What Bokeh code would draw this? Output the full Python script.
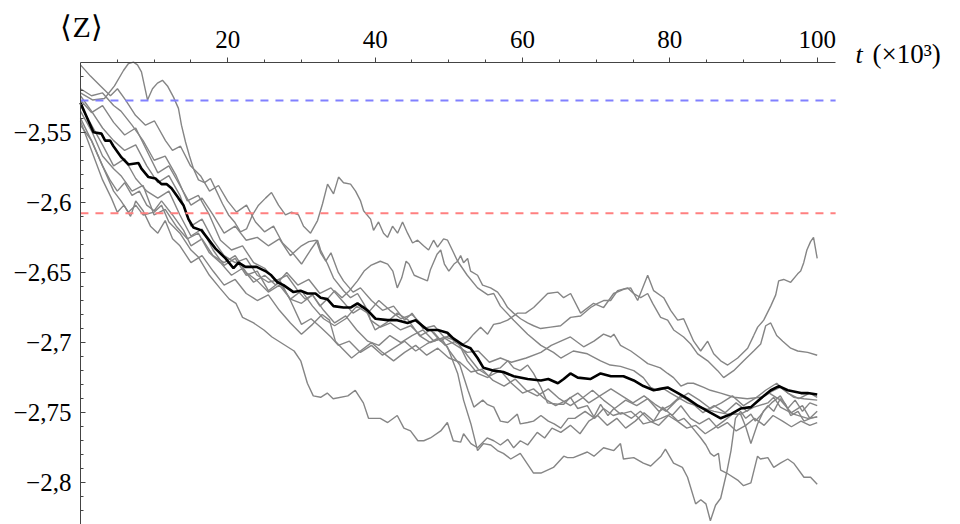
from bokeh.plotting import figure
from bokeh.models import Range1d, FixedTicker, CustomJSTickFormatter, Label, LinearAxis
from bokeh.embed import file_html
from bokeh.resources import INLINE

# ---- data: individual runs (t in units of 10^3, <Z>) ----
run_1 = [(0, -2.522), (1.63, -2.527), (3.26, -2.526), (4.62, -2.517), (5.84, -2.506), (6.52, -2.501), (7.2, -2.500), (7.74, -2.502), (8.28, -2.507), (9.1, -2.527), (9.78, -2.519), (10.45, -2.515), (11.13, -2.513), (11.81, -2.517), (12.63, -2.525), (13.3, -2.533), (13.71, -2.545), (14.26, -2.557), (14.8, -2.567), (15.34, -2.576), (16.02, -2.584), (16.84, -2.586), (17.65, -2.583), (18.47, -2.592), (19.28, -2.601), (20.1, -2.609), (20.91, -2.614), (21.72, -2.621), (22.54, -2.619), (23.35, -2.609), (24.17, -2.602), (25.12, -2.597), (25.93, -2.593), (26.88, -2.602), (27.83, -2.609), (28.65, -2.607), (29.6, -2.609), (30.28, -2.617), (31.23, -2.622), (32.18, -2.613), (32.86, -2.601), (33.54, -2.587), (34.35, -2.594), (35.03, -2.582), (35.71, -2.586), (36.66, -2.587), (37.34, -2.592), (38.02, -2.599), (38.43, -2.606), (39.38, -2.612), (39.78, -2.620), (40.46, -2.614), (41.14, -2.622), (41.68, -2.625), (42.36, -2.617), (43.04, -2.622), (43.72, -2.614), (44.4, -2.622), (45.08, -2.629), (45.76, -2.627), (46.57, -2.631), (47.25, -2.634), (47.93, -2.627), (48.47, -2.632), (49.29, -2.626), (49.83, -2.627), (50.65, -2.636), (51.19, -2.642), (51.6, -2.638), (52.0, -2.643), (52.55, -2.640), (52.95, -2.649), (53.9, -2.652), (54.58, -2.659), (55.67, -2.661), (56.62, -2.664), (57.3, -2.669), (57.98, -2.675), (58.79, -2.679), (59.74, -2.683), (60.69, -2.686), (61.51, -2.688), (62.46, -2.690), (63.82, -2.689), (65.17, -2.688), (66.53, -2.682), (67.89, -2.681), (69.25, -2.675), (70.2, -2.672), (71.01, -2.670), (71.96, -2.670), (72.91, -2.663), (74.27, -2.661), (75.08, -2.665), (76.04, -2.668), (76.99, -2.665), (77.67, -2.672), (78.75, -2.682), (79.7, -2.684), (80.52, -2.691), (81.87, -2.696), (82.82, -2.701), (83.77, -2.708), (85.13, -2.713), (86.49, -2.720), (87.3, -2.725), (88.66, -2.720), (90.02, -2.713), (91.38, -2.706), (92.33, -2.701), (93.01, -2.688), (93.69, -2.686), (94.5, -2.695), (95.32, -2.699), (96.4, -2.704), (97.35, -2.706), (98.71, -2.707), (100, -2.709)]

run_2 = [(0, -2.502), (1.36, -2.510), (2.72, -2.517), (4.07, -2.524), (5.02, -2.519), (6.11, -2.527), (7.47, -2.538), (8.83, -2.545), (10.05, -2.542), (11.54, -2.556), (12.49, -2.563), (13.58, -2.560), (14.94, -2.574), (16.29, -2.581), (17.52, -2.592), (18.74, -2.588), (19.96, -2.599), (21.18, -2.607), (22.54, -2.602), (23.76, -2.614), (24.98, -2.621), (26.21, -2.617), (27.43, -2.629), (28.78, -2.636), (30.01, -2.644), (31.23, -2.634), (32.18, -2.627), (32.59, -2.634), (33.54, -2.644), (34.35, -2.654), (35.71, -2.663), (36.66, -2.668), (37.61, -2.665), (38.43, -2.672), (38.97, -2.677), (39.38, -2.684), (40.73, -2.689), (42.09, -2.686), (43.45, -2.691), (44.81, -2.688), (46.16, -2.695), (47.52, -2.691), (48.88, -2.699), (49.97, -2.695), (50.92, -2.700), (51.73, -2.702), (52.55, -2.699), (53.36, -2.694), (54.31, -2.689), (55.26, -2.694), (56.08, -2.687), (57.03, -2.686), (57.98, -2.684), (59.33, -2.679), (60.42, -2.679), (61.51, -2.675), (62.46, -2.670), (63.41, -2.665), (64.77, -2.664), (65.58, -2.668), (66.53, -2.665), (67.89, -2.679), (69.65, -2.672), (71.01, -2.675), (72.37, -2.665), (73.73, -2.662), (74.68, -2.661), (75.63, -2.670), (76.99, -2.652), (77.8, -2.663), (79.16, -2.668), (80.11, -2.677), (81.06, -2.684), (81.87, -2.683), (83.23, -2.699), (84.18, -2.706), (85.13, -2.699), (85.95, -2.708), (86.9, -2.713), (87.85, -2.716), (89.21, -2.711), (90.56, -2.704), (91.38, -2.695), (91.92, -2.689), (92.74, -2.684), (93.69, -2.674), (94.37, -2.666), (94.77, -2.656), (95.45, -2.655), (96.4, -2.657), (97.35, -2.651), (97.76, -2.649), (98.17, -2.643), (98.6, -2.634), (99.1, -2.628), (99.5, -2.625), (100, -2.640)]

run_3 = [(0, -2.527), (1.5, -2.536), (3, -2.531), (4.5, -2.543), (6, -2.552), (7.5, -2.547), (9, -2.563), (10.5, -2.579), (12, -2.574), (13.5, -2.588), (15, -2.602), (16.5, -2.597), (18, -2.609), (19.5, -2.622), (21, -2.617), (22.5, -2.627), (24, -2.625), (25.5, -2.631), (27, -2.626), (28.5, -2.638), (30, -2.631), (31, -2.628), (32, -2.627), (32.6, -2.636), (33.3, -2.642), (34, -2.636), (35, -2.650), (35.7, -2.656), (37, -2.664), (38, -2.661), (39.5, -2.670), (41, -2.677), (42.5, -2.674), (44, -2.684), (45, -2.679), (46.5, -2.690), (48, -2.688), (49.5, -2.697), (51, -2.702), (52.5, -2.707), (54, -2.706), (55.5, -2.714), (57, -2.711), (58.5, -2.714), (60.5, -2.711), (62.5, -2.707), (63.9, -2.702), (65.2, -2.699), (66.5, -2.696), (68.3, -2.703), (69.7, -2.699), (71.0, -2.694), (72.0, -2.696), (72.4, -2.694), (73.3, -2.702), (74.7, -2.706), (76.0, -2.711), (77.0, -2.715), (78.7, -2.718), (79.7, -2.722), (80.5, -2.725), (81.5, -2.731), (82.4, -2.729), (83.2, -2.729), (84.6, -2.732), (85.5, -2.734), (86.9, -2.736), (88.7, -2.739), (90.5, -2.740), (92.3, -2.739), (94.1, -2.734), (95.0, -2.732), (96.8, -2.739), (98.2, -2.740), (100, -2.741)]

run_4 = [(0, -2.531), (1.5, -2.545), (3, -2.559), (4.5, -2.574), (6, -2.569), (7.5, -2.583), (9, -2.592), (10.5, -2.597), (12, -2.592), (13.5, -2.609), (15, -2.624), (16.5, -2.619), (18, -2.634), (19.5, -2.645), (21, -2.640), (22.5, -2.652), (24, -2.649), (25.5, -2.663), (27, -2.657), (28.5, -2.669), (30, -2.672), (31.5, -2.666), (33, -2.677), (34.5, -2.686), (36, -2.681), (37.5, -2.691), (39, -2.699), (40.5, -2.702), (42, -2.695), (43.5, -2.700), (45, -2.695), (46.5, -2.691), (48, -2.699), (49.5, -2.696), (51.2, -2.699), (52.5, -2.713), (53.9, -2.722), (55.3, -2.725), (56.1, -2.719), (57.0, -2.718), (58.0, -2.713), (58.8, -2.718), (59.7, -2.720), (60.7, -2.716), (61.5, -2.722), (62.5, -2.732), (63.4, -2.743), (64.8, -2.744), (65.6, -2.744), (66.5, -2.739), (67.5, -2.747), (68.8, -2.745), (69.7, -2.753), (70.6, -2.744), (71.6, -2.752), (72.4, -2.747), (73.3, -2.751), (74.7, -2.749), (75.6, -2.753), (76.4, -2.758), (77.8, -2.756), (78.8, -2.754), (80.1, -2.751), (81.1, -2.756), (81.9, -2.754), (82.8, -2.759), (84.2, -2.768), (84.9, -2.773), (85.5, -2.779), (86.0, -2.781), (86.6, -2.779), (86.9, -2.791), (87.7, -2.793), (89.2, -2.798), (90.0, -2.802), (91.0, -2.800), (91.9, -2.781), (92.3, -2.783), (93.3, -2.782), (94.1, -2.789), (95.0, -2.786), (96.0, -2.783), (96.8, -2.786), (98.2, -2.796), (99.1, -2.796), (100, -2.801)]

run_5 = [(0, -2.524), (1.5, -2.535), (3, -2.547), (4.5, -2.556), (6, -2.563), (7.5, -2.559), (9, -2.574), (10.5, -2.586), (12, -2.581), (13.5, -2.595), (15, -2.617), (16.5, -2.612), (18, -2.627), (19.5, -2.638), (21, -2.643), (22.5, -2.640), (24, -2.652), (25.5, -2.657), (27, -2.655), (28.5, -2.670), (30, -2.687), (31.3, -2.683), (32.6, -2.689), (34, -2.696), (35, -2.702), (36.5, -2.699), (38, -2.707), (39.5, -2.702), (41, -2.709), (42.5, -2.704), (44, -2.699), (45.5, -2.706), (47, -2.701), (48.5, -2.697), (49.8, -2.703), (51.2, -2.722), (52.0, -2.741), (53.0, -2.758), (53.9, -2.777), (54.7, -2.772), (55.7, -2.773), (56.6, -2.777), (57.4, -2.779), (58.4, -2.783), (59.7, -2.779), (61.5, -2.793), (62.5, -2.793), (64.2, -2.789), (65.6, -2.781), (66.1, -2.782), (66.9, -2.782), (68.8, -2.778), (69.7, -2.781), (71.0, -2.775), (72.4, -2.777), (73.3, -2.772), (73.7, -2.783), (75.1, -2.782), (76.4, -2.786), (77.4, -2.788), (78.8, -2.781), (79.4, -2.776), (80.5, -2.786), (81.7, -2.789), (82.4, -2.796), (83.5, -2.815), (84.2, -2.812), (84.9, -2.815), (85.5, -2.827), (86.2, -2.816), (86.9, -2.811), (87.7, -2.793), (88.3, -2.777), (88.9, -2.754), (89.6, -2.749), (90.3, -2.754), (91.0, -2.751), (91.6, -2.756), (92.3, -2.752), (93.3, -2.745), (94.1, -2.749), (95.0, -2.740), (95.7, -2.744), (96.4, -2.752), (97.4, -2.749), (98.2, -2.756), (99.1, -2.754), (100, -2.753)]

run_6 = [(0, -2.540), (1.5, -2.556), (3, -2.574), (4.5, -2.592), (5.5, -2.599), (6.5, -2.607), (7.5, -2.602), (8.5, -2.609), (10, -2.607), (11, -2.602), (12, -2.614), (13.5, -2.622), (15, -2.634), (16, -2.639), (17.5, -2.652), (18.9, -2.661), (20.2, -2.669), (21.1, -2.672), (22, -2.682), (23.5, -2.686), (24.9, -2.691), (26, -2.696), (27.5, -2.701), (29, -2.706), (29.9, -2.713), (30.8, -2.729), (31.6, -2.738), (32.6, -2.739), (33.5, -2.736), (34.3, -2.740), (36.3, -2.738), (37.3, -2.734), (38.4, -2.743), (39.1, -2.754), (40.7, -2.754), (41.7, -2.757), (43.0, -2.752), (43.9, -2.761), (44.8, -2.763), (45.8, -2.770), (46.6, -2.770), (47.5, -2.768), (48.9, -2.763), (49.8, -2.757), (50.6, -2.770), (51.6, -2.771), (52.0, -2.765), (53.0, -2.772), (53.9, -2.775), (55.2, -2.768), (56.1, -2.770), (57.0, -2.773), (58.0, -2.769), (58.8, -2.775), (59.7, -2.770), (60.7, -2.773), (62.0, -2.764), (63.0, -2.768), (64.0, -2.761), (65.2, -2.764), (66.5, -2.759), (67.8, -2.765), (69.0, -2.756), (70.2, -2.752), (71.5, -2.759), (72.8, -2.754), (74.0, -2.761), (75.3, -2.756), (76.5, -2.750), (77.8, -2.756), (79.0, -2.746), (80.3, -2.752), (81.5, -2.745), (82.8, -2.754), (84.0, -2.758), (85.3, -2.754), (86.5, -2.761), (87.8, -2.757), (89.0, -2.763), (90.3, -2.759), (91.5, -2.754), (92.8, -2.759), (94.0, -2.752), (95.3, -2.756), (96.5, -2.760), (97.8, -2.756), (99.0, -2.759), (100, -2.757)]

run_7 = [(0, -2.535), (1.5, -2.549), (3, -2.567), (4.5, -2.576), (5.5, -2.581), (7, -2.592), (8.5, -2.588), (10, -2.609), (11.5, -2.605), (13, -2.617), (14.5, -2.626), (16, -2.622), (17.5, -2.636), (19, -2.643), (20.5, -2.652), (22, -2.647), (23.5, -2.657), (25, -2.652), (26.5, -2.659), (28, -2.650), (29.5, -2.659), (31, -2.655), (32.5, -2.665), (34, -2.661), (35.5, -2.670), (37, -2.679), (38.5, -2.674), (40, -2.691), (41.5, -2.686), (43, -2.679), (44.5, -2.684), (46, -2.695), (47.5, -2.700), (49, -2.697), (50.1, -2.706), (51.5, -2.716), (52.6, -2.734), (53.4, -2.746), (54.6, -2.741), (55.2, -2.744), (56.1, -2.746), (57.0, -2.756), (58.0, -2.757), (59.3, -2.751), (59.7, -2.758), (60.7, -2.757), (61.5, -2.756), (62.5, -2.752), (63.5, -2.756), (64.3, -2.758), (65.2, -2.761), (66.2, -2.754), (67.1, -2.754), (68.5, -2.749), (69.8, -2.754), (71.0, -2.747), (72.3, -2.752), (73.5, -2.750), (74.8, -2.754), (76.0, -2.749), (77.3, -2.756), (78.5, -2.759), (79.8, -2.752), (81.0, -2.756), (82.3, -2.761), (83.5, -2.759), (84.8, -2.765), (86.0, -2.761), (87.3, -2.756), (88.5, -2.751), (89.6, -2.751), (90.3, -2.760), (91.0, -2.772), (91.9, -2.758), (92.7, -2.749), (93.8, -2.743), (95.0, -2.738), (96.0, -2.747), (97.0, -2.741), (98.0, -2.749), (99.0, -2.743), (100, -2.745)]

run_8 = [(0, -2.519), (1.5, -2.524), (3, -2.522), (4.5, -2.531), (5.5, -2.535), (7, -2.545), (8.5, -2.556), (10, -2.570), (11.5, -2.567), (13, -2.581), (14.5, -2.599), (16, -2.595), (17.5, -2.609), (19, -2.627), (20.5, -2.634), (22, -2.631), (23.5, -2.643), (25, -2.647), (26.5, -2.656), (28, -2.652), (29.5, -2.663), (30.5, -2.669), (31.5, -2.666), (32.5, -2.674), (33.5, -2.669), (34.5, -2.663), (35.5, -2.668), (36.5, -2.663), (37.6, -2.656), (38.5, -2.649), (39.4, -2.645), (40.7, -2.642), (41.7, -2.644), (42.4, -2.649), (43.0, -2.661), (43.6, -2.654), (44.2, -2.642), (44.6, -2.644), (45.3, -2.652), (46.2, -2.654), (47.1, -2.656), (47.5, -2.648), (48.4, -2.637), (48.9, -2.634), (49.4, -2.644), (50.0, -2.649), (50.7, -2.644), (51.2, -2.642), (52.5, -2.652), (53.9, -2.661), (55.3, -2.666), (56.1, -2.665), (57.0, -2.674), (58.8, -2.684), (60.7, -2.694), (62.5, -2.702), (64.2, -2.707), (65.2, -2.711), (66.9, -2.706), (68.8, -2.708), (70.6, -2.713), (71.9, -2.716), (73.3, -2.717), (75.1, -2.720), (76.4, -2.725), (77.4, -2.732), (78.3, -2.734), (79.2, -2.733), (80.1, -2.736), (81.1, -2.739), (82.4, -2.743), (84.2, -2.746), (86.0, -2.749), (87.8, -2.751), (89.6, -2.751), (91.4, -2.746), (93.3, -2.743), (94.1, -2.739), (95.0, -2.746), (96.8, -2.751), (98.7, -2.754), (100, -2.753)]

run_9 = [(0, -2.542), (1.5, -2.563), (3, -2.584), (4.2, -2.597), (5, -2.607), (5.9, -2.602), (6.8, -2.610), (7.5, -2.599), (8.5, -2.606), (9.5, -2.617), (10.5, -2.622), (11.5, -2.613), (12.5, -2.626), (13.5, -2.631), (15, -2.643), (16.5, -2.638), (18, -2.649), (19.5, -2.659), (21, -2.655), (22.5, -2.665), (24, -2.670), (25.5, -2.666), (27, -2.677), (28.5, -2.686), (30, -2.694), (31.5, -2.687), (32.8, -2.680), (33.8, -2.684), (34.6, -2.699), (35.5, -2.704), (36.8, -2.711), (38, -2.706), (39.5, -2.700), (41, -2.707), (42.5, -2.713), (44, -2.707), (45.5, -2.702), (47, -2.709), (48.5, -2.704), (50, -2.711), (51.5, -2.714), (53, -2.721), (54.5, -2.719), (56, -2.727), (57.5, -2.731), (59, -2.726), (60.5, -2.734), (62, -2.738), (63.5, -2.733), (65, -2.740), (66.5, -2.745), (68, -2.740), (69.5, -2.734), (71, -2.741), (72.5, -2.747), (74, -2.741), (75.5, -2.745), (77, -2.740), (78.5, -2.749), (80, -2.745), (81.5, -2.738), (83, -2.743), (84.5, -2.750), (86, -2.745), (87.5, -2.750), (89, -2.743), (90.5, -2.749), (92, -2.741), (93.5, -2.736), (95, -2.741), (96.5, -2.750), (98, -2.745), (99, -2.754), (100, -2.749)]

run_10 = [(0, -2.545), (1.5, -2.556), (3, -2.574), (4, -2.584), (5, -2.592), (6, -2.586), (7, -2.595), (8, -2.592), (9, -2.602), (10, -2.606), (11, -2.599), (12.5, -2.609), (14, -2.620), (15, -2.631), (16.5, -2.626), (18, -2.638), (19.5, -2.643), (21, -2.638), (22.5, -2.650), (24, -2.656), (25.5, -2.664), (27, -2.659), (28.5, -2.669), (30, -2.663), (31.5, -2.674), (33, -2.683), (34.5, -2.688), (36, -2.683), (37.5, -2.674), (39, -2.679), (40.5, -2.670), (42, -2.677), (43.5, -2.683), (45, -2.680), (46.5, -2.688), (48, -2.693), (49.5, -2.702), (51, -2.699), (52.5, -2.709), (54, -2.719), (55.5, -2.724), (57, -2.720), (58.5, -2.729), (60, -2.736), (61.5, -2.733), (63, -2.740), (64.5, -2.745), (66, -2.741), (67.5, -2.736), (69, -2.743), (70.5, -2.738), (72, -2.733), (73.5, -2.738), (75, -2.743), (76.5, -2.738), (78, -2.744), (79.5, -2.749), (81, -2.741), (82.5, -2.736), (84, -2.741), (85.5, -2.747), (87, -2.743), (88.5, -2.738), (90, -2.745), (91.5, -2.740), (93, -2.734), (94.5, -2.729), (96, -2.736), (97.5, -2.740), (99, -2.736), (100, -2.739)]

# average over runs (black curve)
mean_run = [(0, -2.529), (1.09, -2.542), (1.77, -2.550), (2.85, -2.551), (3.35, -2.556), (4.03, -2.556), (4.48, -2.560), (5.57, -2.568), (6.52, -2.573), (7.88, -2.572), (8.28, -2.576), (9.23, -2.582), (10.18, -2.583), (11.0, -2.587), (11.68, -2.587), (12.36, -2.590), (13.3, -2.597), (13.98, -2.602), (14.66, -2.612), (15.34, -2.618), (16.43, -2.620), (18.33, -2.633), (19.69, -2.640), (20.77, -2.647), (21.45, -2.643), (22.4, -2.646), (23.9, -2.646), (25.1, -2.649), (25.9, -2.652), (26.75, -2.657), (27.56, -2.659), (28.92, -2.664), (29.87, -2.663), (30.82, -2.665), (31.9, -2.665), (32.6, -2.668), (33.5, -2.669), (34.35, -2.674), (35.7, -2.675), (36.66, -2.675), (37.6, -2.672), (38.97, -2.677), (40.05, -2.683), (41.7, -2.684), (43.0, -2.684), (44.4, -2.686), (45.5, -2.684), (47.1, -2.691), (48.5, -2.691), (49.8, -2.693), (50.6, -2.697), (52.0, -2.702), (52.95, -2.704), (53.9, -2.711), (54.7, -2.718), (56.1, -2.720), (57.4, -2.721), (58.8, -2.724), (60.7, -2.726), (62.5, -2.727), (63.5, -2.726), (64.8, -2.729), (65.6, -2.726), (66.5, -2.722), (67.5, -2.725), (69.2, -2.726), (70.6, -2.722), (72.0, -2.724), (73.7, -2.724), (75.1, -2.727), (76.4, -2.731), (77.8, -2.734), (78.7, -2.733), (79.7, -2.732), (81.1, -2.736), (82.4, -2.740), (83.8, -2.745), (85.5, -2.750), (86.9, -2.754), (88.3, -2.751), (89.6, -2.747), (91.0, -2.746), (92.3, -2.740), (93.7, -2.734), (94.8, -2.731), (96.0, -2.734), (97.8, -2.736), (98.7, -2.736), (100, -2.737)]

runs = [run_1, run_2, run_3, run_4, run_5, run_6, run_7, run_8, run_9, run_10]

# reference levels (dashed)
ref_levels = [-2.5274, -2.6078]
ref_colors = ["#8080ff", "#ff8080"]

# axes extents and ticks
t_axis_end = 102.5
z_axis_top = -2.5
z_axis_bottom = -2.8297
x_tick_vals = [20, 40, 60, 80, 100]
x_tick_labels = ["20", "40", "60", "80", "100"]
x_minor_vals = [5, 10, 15, 25, 30, 35, 45, 50, 55, 65, 70, 75, 85, 90, 95]
y_tick_vals = [-2.8, -2.75, -2.7, -2.65, -2.6, -2.55]
y_tick_labels = ["\u22122,8", "\u22122,75", "\u22122,7", "\u22122,65", "\u22122,6", "\u22122,55"]
y_minor_vals = [round(-2.82 + 0.01 * i, 2) for i in range(32)]

FONT = "Liberation Serif"
AX = "#444444"

p = figure(width=960, height=524,
           x_range=Range1d(-10.852, 119.45), y_range=Range1d(-2.8297, -2.4561),
           x_axis_type=None, y_axis_type=None,
           output_backend="svg", toolbar_location=None, min_border=0)
p.outline_line_color = None
p.background_fill_color = "white"
p.border_fill_color = "white"

for run in runs:
    p.line([a for a, b in run], [b for a, b in run], line_color="#858585", line_width=1.4)

p.line([a for a, b in mean_run], [b for a, b in mean_run], line_color="black", line_width=2.6)

p.segment(x0=[0] * len(ref_levels), x1=[t_axis_end] * len(ref_levels), y0=ref_levels, y1=ref_levels,
          line_color=ref_colors, line_width=2, line_dash="8 7")

fmt_code = """
for (let i = 0; i < vals.length; i++) {
  if (Math.abs(vals[i] - tick) < 1e-6) { return labs[i]; }
}
return "";
"""

xa = LinearAxis(fixed_location=z_axis_top, bounds=(0, t_axis_end))
xa.ticker = FixedTicker(ticks=x_tick_vals, minor_ticks=x_minor_vals)
xa.formatter = CustomJSTickFormatter(args=dict(vals=x_tick_vals, labs=x_tick_labels), code=fmt_code)
xa.major_tick_in = 0
xa.major_tick_out = 5
xa.minor_tick_in = 0
xa.minor_tick_out = 3
xa.major_label_standoff = 9

ya = LinearAxis(fixed_location=0, bounds=(z_axis_bottom, z_axis_top))
ya.ticker = FixedTicker(ticks=y_tick_vals, minor_ticks=y_minor_vals)
ya.formatter = CustomJSTickFormatter(args=dict(vals=y_tick_vals, labs=y_tick_labels), code=fmt_code)
ya.major_tick_in = 5
ya.major_tick_out = 0
ya.minor_tick_in = 3
ya.minor_tick_out = 0
ya.major_label_standoff = 9

for ax in (xa, ya):
    ax.axis_line_color = AX
    ax.major_tick_line_color = AX
    ax.minor_tick_line_color = AX
    ax.major_label_text_font = FONT
    ax.major_label_text_font_size = "25px"
    ax.major_label_text_color = "black"

p.add_layout(xa, "above")
p.add_layout(ya, "left")

p.add_layout(Label(x=-2.71, y=-2.4748, text="\u27e8Z\u27e9", text_font=FONT, text_font_size="30px",
                   text_color="black", text_align="left", text_baseline="alphabetic"))
p.add_layout(Label(x=105.2, y=-2.4946, text="t", text_font=FONT, text_font_style="italic",
                   text_font_size="26px", text_color="black", text_align="left", text_baseline="alphabetic"))
p.add_layout(Label(x=107.5, y=-2.4946, text="(\u00d710\u00b3)", text_font=FONT,
                   text_font_size="27px", text_color="black", text_align="left", text_baseline="alphabetic"))

open("out.html", "w").write(file_html(p, INLINE))
